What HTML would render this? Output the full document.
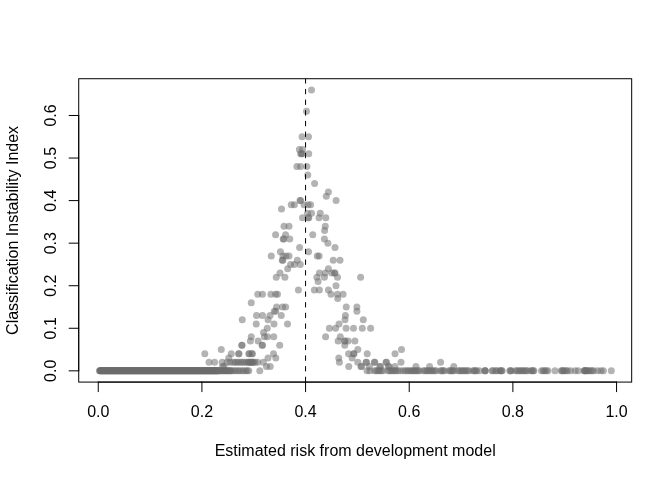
<!DOCTYPE html><html><head><meta charset="utf-8"><title>plot</title><style>html,body{margin:0;padding:0;background:#fff}svg{display:block}text{font-family:"Liberation Sans",sans-serif;font-size:16px;fill:#000}</style></head><body>
<svg width="672" height="480" viewBox="0 0 672 480">
<rect width="672" height="480" fill="#fff"/>
<g fill="#6d6d6d" fill-opacity="0.52">
<circle cx="311.50" cy="89.95" r="3.5"/>
<circle cx="306.50" cy="111.23" r="3.5"/>
<circle cx="302.10" cy="136.77" r="3.5"/>
<circle cx="308.50" cy="136.77" r="3.5"/>
<circle cx="299.40" cy="149.53" r="3.5"/>
<circle cx="302.50" cy="149.53" r="3.5"/>
<circle cx="300.60" cy="153.79" r="3.5"/>
<circle cx="302.50" cy="153.79" r="3.5"/>
<circle cx="301.50" cy="153.79" r="3.5"/>
<circle cx="308.75" cy="153.79" r="3.5"/>
<circle cx="296.90" cy="166.56" r="3.5"/>
<circle cx="300.60" cy="166.56" r="3.5"/>
<circle cx="306.90" cy="166.56" r="3.5"/>
<circle cx="307.75" cy="175.07" r="3.5"/>
<circle cx="314.60" cy="183.58" r="3.5"/>
<circle cx="328.40" cy="192.09" r="3.5"/>
<circle cx="326.25" cy="196.35" r="3.5"/>
<circle cx="300.00" cy="200.60" r="3.5"/>
<circle cx="300.60" cy="200.60" r="3.5"/>
<circle cx="336.10" cy="200.60" r="3.5"/>
<circle cx="291.25" cy="204.86" r="3.5"/>
<circle cx="294.40" cy="204.86" r="3.5"/>
<circle cx="304.00" cy="204.86" r="3.5"/>
<circle cx="308.10" cy="204.86" r="3.5"/>
<circle cx="310.60" cy="204.86" r="3.5"/>
<circle cx="281.50" cy="209.12" r="3.5"/>
<circle cx="307.50" cy="213.37" r="3.5"/>
<circle cx="311.50" cy="213.37" r="3.5"/>
<circle cx="320.25" cy="213.37" r="3.5"/>
<circle cx="302.50" cy="217.63" r="3.5"/>
<circle cx="308.20" cy="217.63" r="3.5"/>
<circle cx="308.80" cy="217.63" r="3.5"/>
<circle cx="319.00" cy="217.63" r="3.5"/>
<circle cx="325.80" cy="217.63" r="3.5"/>
<circle cx="284.00" cy="226.14" r="3.5"/>
<circle cx="289.00" cy="226.14" r="3.5"/>
<circle cx="325.25" cy="226.14" r="3.5"/>
<circle cx="324.60" cy="230.40" r="3.5"/>
<circle cx="275.60" cy="234.65" r="3.5"/>
<circle cx="285.60" cy="234.65" r="3.5"/>
<circle cx="312.75" cy="234.65" r="3.5"/>
<circle cx="283.20" cy="238.91" r="3.5"/>
<circle cx="283.80" cy="238.91" r="3.5"/>
<circle cx="289.75" cy="238.91" r="3.5"/>
<circle cx="324.40" cy="238.91" r="3.5"/>
<circle cx="327.90" cy="243.16" r="3.5"/>
<circle cx="299.60" cy="247.42" r="3.5"/>
<circle cx="335.00" cy="247.42" r="3.5"/>
<circle cx="280.40" cy="251.67" r="3.5"/>
<circle cx="308.50" cy="251.67" r="3.5"/>
<circle cx="271.25" cy="255.93" r="3.5"/>
<circle cx="283.00" cy="255.93" r="3.5"/>
<circle cx="286.00" cy="255.93" r="3.5"/>
<circle cx="289.00" cy="255.93" r="3.5"/>
<circle cx="317.30" cy="255.93" r="3.5"/>
<circle cx="319.10" cy="255.93" r="3.5"/>
<circle cx="282.30" cy="260.19" r="3.5"/>
<circle cx="282.80" cy="260.19" r="3.5"/>
<circle cx="297.30" cy="260.19" r="3.5"/>
<circle cx="333.20" cy="260.19" r="3.5"/>
<circle cx="340.00" cy="260.19" r="3.5"/>
<circle cx="290.60" cy="264.44" r="3.5"/>
<circle cx="294.40" cy="264.44" r="3.5"/>
<circle cx="300.25" cy="264.44" r="3.5"/>
<circle cx="287.70" cy="268.70" r="3.5"/>
<circle cx="328.40" cy="268.70" r="3.5"/>
<circle cx="280.00" cy="272.95" r="3.5"/>
<circle cx="319.40" cy="272.95" r="3.5"/>
<circle cx="325.25" cy="272.95" r="3.5"/>
<circle cx="331.90" cy="272.95" r="3.5"/>
<circle cx="334.50" cy="272.95" r="3.5"/>
<circle cx="335.00" cy="272.95" r="3.5"/>
<circle cx="276.25" cy="277.21" r="3.5"/>
<circle cx="284.90" cy="277.21" r="3.5"/>
<circle cx="316.90" cy="277.21" r="3.5"/>
<circle cx="324.40" cy="277.21" r="3.5"/>
<circle cx="337.50" cy="277.21" r="3.5"/>
<circle cx="360.60" cy="277.21" r="3.5"/>
<circle cx="318.10" cy="281.47" r="3.5"/>
<circle cx="336.00" cy="285.72" r="3.5"/>
<circle cx="298.40" cy="289.98" r="3.5"/>
<circle cx="314.40" cy="289.98" r="3.5"/>
<circle cx="319.40" cy="289.98" r="3.5"/>
<circle cx="328.40" cy="289.98" r="3.5"/>
<circle cx="257.75" cy="294.23" r="3.5"/>
<circle cx="262.50" cy="294.23" r="3.5"/>
<circle cx="270.90" cy="294.23" r="3.5"/>
<circle cx="275.60" cy="294.23" r="3.5"/>
<circle cx="277.50" cy="294.23" r="3.5"/>
<circle cx="331.00" cy="294.23" r="3.5"/>
<circle cx="337.50" cy="294.23" r="3.5"/>
<circle cx="343.10" cy="294.23" r="3.5"/>
<circle cx="337.75" cy="298.49" r="3.5"/>
<circle cx="251.25" cy="302.75" r="3.5"/>
<circle cx="276.60" cy="307.00" r="3.5"/>
<circle cx="282.50" cy="307.00" r="3.5"/>
<circle cx="285.60" cy="307.00" r="3.5"/>
<circle cx="346.25" cy="307.00" r="3.5"/>
<circle cx="356.90" cy="307.00" r="3.5"/>
<circle cx="274.25" cy="311.26" r="3.5"/>
<circle cx="275.75" cy="311.26" r="3.5"/>
<circle cx="356.90" cy="311.26" r="3.5"/>
<circle cx="256.60" cy="315.51" r="3.5"/>
<circle cx="262.50" cy="315.51" r="3.5"/>
<circle cx="270.00" cy="315.51" r="3.5"/>
<circle cx="281.25" cy="315.51" r="3.5"/>
<circle cx="345.40" cy="315.51" r="3.5"/>
<circle cx="242.25" cy="319.77" r="3.5"/>
<circle cx="268.10" cy="319.77" r="3.5"/>
<circle cx="345.00" cy="319.77" r="3.5"/>
<circle cx="363.30" cy="319.77" r="3.5"/>
<circle cx="256.25" cy="324.03" r="3.5"/>
<circle cx="274.00" cy="324.03" r="3.5"/>
<circle cx="287.50" cy="324.03" r="3.5"/>
<circle cx="339.00" cy="324.03" r="3.5"/>
<circle cx="267.25" cy="328.28" r="3.5"/>
<circle cx="329.40" cy="328.28" r="3.5"/>
<circle cx="335.60" cy="328.28" r="3.5"/>
<circle cx="346.10" cy="328.28" r="3.5"/>
<circle cx="353.50" cy="328.28" r="3.5"/>
<circle cx="362.25" cy="328.28" r="3.5"/>
<circle cx="370.60" cy="328.28" r="3.5"/>
<circle cx="263.50" cy="332.54" r="3.5"/>
<circle cx="251.25" cy="336.79" r="3.5"/>
<circle cx="264.40" cy="336.79" r="3.5"/>
<circle cx="267.50" cy="336.79" r="3.5"/>
<circle cx="273.75" cy="336.79" r="3.5"/>
<circle cx="325.60" cy="336.79" r="3.5"/>
<circle cx="340.25" cy="336.79" r="3.5"/>
<circle cx="250.40" cy="341.05" r="3.5"/>
<circle cx="258.10" cy="341.05" r="3.5"/>
<circle cx="338.10" cy="341.05" r="3.5"/>
<circle cx="344.50" cy="341.05" r="3.5"/>
<circle cx="345.00" cy="341.05" r="3.5"/>
<circle cx="348.10" cy="341.05" r="3.5"/>
<circle cx="354.90" cy="341.05" r="3.5"/>
<circle cx="241.70" cy="345.30" r="3.5"/>
<circle cx="242.10" cy="345.30" r="3.5"/>
<circle cx="262.10" cy="345.30" r="3.5"/>
<circle cx="262.50" cy="345.30" r="3.5"/>
<circle cx="279.70" cy="345.30" r="3.5"/>
<circle cx="344.75" cy="345.30" r="3.5"/>
<circle cx="221.25" cy="349.56" r="3.5"/>
<circle cx="357.80" cy="349.56" r="3.5"/>
<circle cx="401.50" cy="349.56" r="3.5"/>
<circle cx="204.80" cy="353.82" r="3.5"/>
<circle cx="231.25" cy="353.82" r="3.5"/>
<circle cx="238.60" cy="353.82" r="3.5"/>
<circle cx="239.00" cy="353.82" r="3.5"/>
<circle cx="248.75" cy="353.82" r="3.5"/>
<circle cx="249.50" cy="353.82" r="3.5"/>
<circle cx="251.90" cy="353.82" r="3.5"/>
<circle cx="252.50" cy="353.82" r="3.5"/>
<circle cx="273.50" cy="353.82" r="3.5"/>
<circle cx="348.60" cy="353.82" r="3.5"/>
<circle cx="353.60" cy="353.82" r="3.5"/>
<circle cx="354.00" cy="353.82" r="3.5"/>
<circle cx="367.20" cy="353.82" r="3.5"/>
<circle cx="395.00" cy="353.82" r="3.5"/>
<circle cx="228.75" cy="358.07" r="3.5"/>
<circle cx="268.00" cy="358.07" r="3.5"/>
<circle cx="275.80" cy="358.07" r="3.5"/>
<circle cx="338.75" cy="358.07" r="3.5"/>
<circle cx="352.10" cy="358.07" r="3.5"/>
<circle cx="209.00" cy="362.33" r="3.5"/>
<circle cx="214.60" cy="362.33" r="3.5"/>
<circle cx="222.20" cy="362.33" r="3.5"/>
<circle cx="227.00" cy="362.33" r="3.5"/>
<circle cx="230.00" cy="362.33" r="3.5"/>
<circle cx="233.00" cy="362.33" r="3.5"/>
<circle cx="235.00" cy="362.33" r="3.5"/>
<circle cx="236.90" cy="362.33" r="3.5"/>
<circle cx="238.60" cy="362.33" r="3.5"/>
<circle cx="240.60" cy="362.33" r="3.5"/>
<circle cx="242.50" cy="362.33" r="3.5"/>
<circle cx="244.40" cy="362.33" r="3.5"/>
<circle cx="246.50" cy="362.33" r="3.5"/>
<circle cx="248.30" cy="362.33" r="3.5"/>
<circle cx="249.00" cy="362.33" r="3.5"/>
<circle cx="250.00" cy="362.33" r="3.5"/>
<circle cx="251.00" cy="362.33" r="3.5"/>
<circle cx="251.90" cy="362.33" r="3.5"/>
<circle cx="252.50" cy="362.33" r="3.5"/>
<circle cx="253.50" cy="362.33" r="3.5"/>
<circle cx="255.00" cy="362.33" r="3.5"/>
<circle cx="257.60" cy="362.33" r="3.5"/>
<circle cx="263.30" cy="362.33" r="3.5"/>
<circle cx="339.40" cy="362.33" r="3.5"/>
<circle cx="357.80" cy="362.33" r="3.5"/>
<circle cx="366.00" cy="362.33" r="3.5"/>
<circle cx="366.50" cy="362.33" r="3.5"/>
<circle cx="374.40" cy="362.33" r="3.5"/>
<circle cx="374.80" cy="362.33" r="3.5"/>
<circle cx="386.00" cy="362.33" r="3.5"/>
<circle cx="386.50" cy="362.33" r="3.5"/>
<circle cx="401.00" cy="362.33" r="3.5"/>
<circle cx="440.60" cy="362.33" r="3.5"/>
<circle cx="222.60" cy="366.58" r="3.5"/>
<circle cx="224.00" cy="366.58" r="3.5"/>
<circle cx="266.50" cy="366.58" r="3.5"/>
<circle cx="270.20" cy="366.58" r="3.5"/>
<circle cx="348.75" cy="366.58" r="3.5"/>
<circle cx="361.00" cy="366.58" r="3.5"/>
<circle cx="361.50" cy="366.58" r="3.5"/>
<circle cx="369.40" cy="366.58" r="3.5"/>
<circle cx="379.80" cy="366.58" r="3.5"/>
<circle cx="380.40" cy="366.58" r="3.5"/>
<circle cx="388.40" cy="366.58" r="3.5"/>
<circle cx="389.20" cy="366.58" r="3.5"/>
<circle cx="395.00" cy="366.58" r="3.5"/>
<circle cx="415.90" cy="366.58" r="3.5"/>
<circle cx="429.60" cy="366.58" r="3.5"/>
<circle cx="453.75" cy="366.58" r="3.5"/>
<circle cx="99.50" cy="370.84" r="3.5"/>
<circle cx="99.90" cy="370.84" r="3.5"/>
<circle cx="100.30" cy="370.84" r="3.5"/>
<circle cx="100.70" cy="370.84" r="3.5"/>
<circle cx="101.10" cy="370.84" r="3.5"/>
<circle cx="101.50" cy="370.84" r="3.5"/>
<circle cx="101.90" cy="370.84" r="3.5"/>
<circle cx="102.30" cy="370.84" r="3.5"/>
<circle cx="102.70" cy="370.84" r="3.5"/>
<circle cx="103.10" cy="370.84" r="3.5"/>
<circle cx="103.50" cy="370.84" r="3.5"/>
<circle cx="103.90" cy="370.84" r="3.5"/>
<circle cx="104.30" cy="370.84" r="3.5"/>
<circle cx="104.70" cy="370.84" r="3.5"/>
<circle cx="105.10" cy="370.84" r="3.5"/>
<circle cx="105.50" cy="370.84" r="3.5"/>
<circle cx="105.90" cy="370.84" r="3.5"/>
<circle cx="106.30" cy="370.84" r="3.5"/>
<circle cx="106.70" cy="370.84" r="3.5"/>
<circle cx="107.10" cy="370.84" r="3.5"/>
<circle cx="107.50" cy="370.84" r="3.5"/>
<circle cx="107.90" cy="370.84" r="3.5"/>
<circle cx="108.30" cy="370.84" r="3.5"/>
<circle cx="108.70" cy="370.84" r="3.5"/>
<circle cx="109.10" cy="370.84" r="3.5"/>
<circle cx="109.50" cy="370.84" r="3.5"/>
<circle cx="109.90" cy="370.84" r="3.5"/>
<circle cx="110.30" cy="370.84" r="3.5"/>
<circle cx="110.70" cy="370.84" r="3.5"/>
<circle cx="111.10" cy="370.84" r="3.5"/>
<circle cx="111.50" cy="370.84" r="3.5"/>
<circle cx="111.90" cy="370.84" r="3.5"/>
<circle cx="112.30" cy="370.84" r="3.5"/>
<circle cx="112.70" cy="370.84" r="3.5"/>
<circle cx="113.10" cy="370.84" r="3.5"/>
<circle cx="113.50" cy="370.84" r="3.5"/>
<circle cx="113.90" cy="370.84" r="3.5"/>
<circle cx="114.30" cy="370.84" r="3.5"/>
<circle cx="114.70" cy="370.84" r="3.5"/>
<circle cx="115.10" cy="370.84" r="3.5"/>
<circle cx="115.50" cy="370.84" r="3.5"/>
<circle cx="115.90" cy="370.84" r="3.5"/>
<circle cx="116.30" cy="370.84" r="3.5"/>
<circle cx="116.70" cy="370.84" r="3.5"/>
<circle cx="117.10" cy="370.84" r="3.5"/>
<circle cx="117.50" cy="370.84" r="3.5"/>
<circle cx="117.90" cy="370.84" r="3.5"/>
<circle cx="118.30" cy="370.84" r="3.5"/>
<circle cx="118.70" cy="370.84" r="3.5"/>
<circle cx="119.10" cy="370.84" r="3.5"/>
<circle cx="119.50" cy="370.84" r="3.5"/>
<circle cx="119.90" cy="370.84" r="3.5"/>
<circle cx="120.30" cy="370.84" r="3.5"/>
<circle cx="120.70" cy="370.84" r="3.5"/>
<circle cx="121.10" cy="370.84" r="3.5"/>
<circle cx="121.50" cy="370.84" r="3.5"/>
<circle cx="121.90" cy="370.84" r="3.5"/>
<circle cx="122.30" cy="370.84" r="3.5"/>
<circle cx="122.70" cy="370.84" r="3.5"/>
<circle cx="123.10" cy="370.84" r="3.5"/>
<circle cx="123.50" cy="370.84" r="3.5"/>
<circle cx="123.90" cy="370.84" r="3.5"/>
<circle cx="124.30" cy="370.84" r="3.5"/>
<circle cx="124.70" cy="370.84" r="3.5"/>
<circle cx="125.10" cy="370.84" r="3.5"/>
<circle cx="125.50" cy="370.84" r="3.5"/>
<circle cx="125.90" cy="370.84" r="3.5"/>
<circle cx="126.30" cy="370.84" r="3.5"/>
<circle cx="126.70" cy="370.84" r="3.5"/>
<circle cx="127.10" cy="370.84" r="3.5"/>
<circle cx="127.50" cy="370.84" r="3.5"/>
<circle cx="127.90" cy="370.84" r="3.5"/>
<circle cx="128.30" cy="370.84" r="3.5"/>
<circle cx="128.70" cy="370.84" r="3.5"/>
<circle cx="129.10" cy="370.84" r="3.5"/>
<circle cx="129.50" cy="370.84" r="3.5"/>
<circle cx="129.90" cy="370.84" r="3.5"/>
<circle cx="130.30" cy="370.84" r="3.5"/>
<circle cx="130.70" cy="370.84" r="3.5"/>
<circle cx="131.10" cy="370.84" r="3.5"/>
<circle cx="131.50" cy="370.84" r="3.5"/>
<circle cx="131.90" cy="370.84" r="3.5"/>
<circle cx="132.30" cy="370.84" r="3.5"/>
<circle cx="132.70" cy="370.84" r="3.5"/>
<circle cx="133.10" cy="370.84" r="3.5"/>
<circle cx="133.50" cy="370.84" r="3.5"/>
<circle cx="133.90" cy="370.84" r="3.5"/>
<circle cx="134.30" cy="370.84" r="3.5"/>
<circle cx="134.70" cy="370.84" r="3.5"/>
<circle cx="135.10" cy="370.84" r="3.5"/>
<circle cx="135.50" cy="370.84" r="3.5"/>
<circle cx="135.90" cy="370.84" r="3.5"/>
<circle cx="136.30" cy="370.84" r="3.5"/>
<circle cx="136.70" cy="370.84" r="3.5"/>
<circle cx="137.10" cy="370.84" r="3.5"/>
<circle cx="137.50" cy="370.84" r="3.5"/>
<circle cx="137.90" cy="370.84" r="3.5"/>
<circle cx="138.30" cy="370.84" r="3.5"/>
<circle cx="138.70" cy="370.84" r="3.5"/>
<circle cx="139.10" cy="370.84" r="3.5"/>
<circle cx="139.50" cy="370.84" r="3.5"/>
<circle cx="139.90" cy="370.84" r="3.5"/>
<circle cx="140.30" cy="370.84" r="3.5"/>
<circle cx="140.70" cy="370.84" r="3.5"/>
<circle cx="141.10" cy="370.84" r="3.5"/>
<circle cx="141.50" cy="370.84" r="3.5"/>
<circle cx="141.90" cy="370.84" r="3.5"/>
<circle cx="142.30" cy="370.84" r="3.5"/>
<circle cx="142.70" cy="370.84" r="3.5"/>
<circle cx="143.10" cy="370.84" r="3.5"/>
<circle cx="143.50" cy="370.84" r="3.5"/>
<circle cx="143.90" cy="370.84" r="3.5"/>
<circle cx="144.30" cy="370.84" r="3.5"/>
<circle cx="144.70" cy="370.84" r="3.5"/>
<circle cx="145.10" cy="370.84" r="3.5"/>
<circle cx="145.50" cy="370.84" r="3.5"/>
<circle cx="145.90" cy="370.84" r="3.5"/>
<circle cx="146.30" cy="370.84" r="3.5"/>
<circle cx="146.70" cy="370.84" r="3.5"/>
<circle cx="147.10" cy="370.84" r="3.5"/>
<circle cx="147.50" cy="370.84" r="3.5"/>
<circle cx="147.90" cy="370.84" r="3.5"/>
<circle cx="148.30" cy="370.84" r="3.5"/>
<circle cx="148.70" cy="370.84" r="3.5"/>
<circle cx="149.10" cy="370.84" r="3.5"/>
<circle cx="149.50" cy="370.84" r="3.5"/>
<circle cx="149.90" cy="370.84" r="3.5"/>
<circle cx="150.30" cy="370.84" r="3.5"/>
<circle cx="150.70" cy="370.84" r="3.5"/>
<circle cx="151.10" cy="370.84" r="3.5"/>
<circle cx="151.50" cy="370.84" r="3.5"/>
<circle cx="151.90" cy="370.84" r="3.5"/>
<circle cx="152.30" cy="370.84" r="3.5"/>
<circle cx="152.70" cy="370.84" r="3.5"/>
<circle cx="153.10" cy="370.84" r="3.5"/>
<circle cx="153.50" cy="370.84" r="3.5"/>
<circle cx="153.90" cy="370.84" r="3.5"/>
<circle cx="154.30" cy="370.84" r="3.5"/>
<circle cx="154.70" cy="370.84" r="3.5"/>
<circle cx="155.10" cy="370.84" r="3.5"/>
<circle cx="155.50" cy="370.84" r="3.5"/>
<circle cx="155.90" cy="370.84" r="3.5"/>
<circle cx="156.30" cy="370.84" r="3.5"/>
<circle cx="156.70" cy="370.84" r="3.5"/>
<circle cx="157.10" cy="370.84" r="3.5"/>
<circle cx="157.50" cy="370.84" r="3.5"/>
<circle cx="157.90" cy="370.84" r="3.5"/>
<circle cx="158.30" cy="370.84" r="3.5"/>
<circle cx="158.70" cy="370.84" r="3.5"/>
<circle cx="159.10" cy="370.84" r="3.5"/>
<circle cx="159.50" cy="370.84" r="3.5"/>
<circle cx="159.90" cy="370.84" r="3.5"/>
<circle cx="160.30" cy="370.84" r="3.5"/>
<circle cx="160.70" cy="370.84" r="3.5"/>
<circle cx="161.10" cy="370.84" r="3.5"/>
<circle cx="161.50" cy="370.84" r="3.5"/>
<circle cx="161.90" cy="370.84" r="3.5"/>
<circle cx="162.30" cy="370.84" r="3.5"/>
<circle cx="162.70" cy="370.84" r="3.5"/>
<circle cx="163.10" cy="370.84" r="3.5"/>
<circle cx="163.50" cy="370.84" r="3.5"/>
<circle cx="163.90" cy="370.84" r="3.5"/>
<circle cx="164.30" cy="370.84" r="3.5"/>
<circle cx="164.70" cy="370.84" r="3.5"/>
<circle cx="165.10" cy="370.84" r="3.5"/>
<circle cx="165.50" cy="370.84" r="3.5"/>
<circle cx="165.90" cy="370.84" r="3.5"/>
<circle cx="166.30" cy="370.84" r="3.5"/>
<circle cx="166.70" cy="370.84" r="3.5"/>
<circle cx="167.10" cy="370.84" r="3.5"/>
<circle cx="167.50" cy="370.84" r="3.5"/>
<circle cx="167.90" cy="370.84" r="3.5"/>
<circle cx="168.30" cy="370.84" r="3.5"/>
<circle cx="168.70" cy="370.84" r="3.5"/>
<circle cx="169.10" cy="370.84" r="3.5"/>
<circle cx="169.50" cy="370.84" r="3.5"/>
<circle cx="169.90" cy="370.84" r="3.5"/>
<circle cx="170.30" cy="370.84" r="3.5"/>
<circle cx="170.70" cy="370.84" r="3.5"/>
<circle cx="171.10" cy="370.84" r="3.5"/>
<circle cx="171.50" cy="370.84" r="3.5"/>
<circle cx="171.90" cy="370.84" r="3.5"/>
<circle cx="172.30" cy="370.84" r="3.5"/>
<circle cx="172.70" cy="370.84" r="3.5"/>
<circle cx="173.10" cy="370.84" r="3.5"/>
<circle cx="173.50" cy="370.84" r="3.5"/>
<circle cx="173.90" cy="370.84" r="3.5"/>
<circle cx="174.30" cy="370.84" r="3.5"/>
<circle cx="174.70" cy="370.84" r="3.5"/>
<circle cx="175.10" cy="370.84" r="3.5"/>
<circle cx="175.50" cy="370.84" r="3.5"/>
<circle cx="175.90" cy="370.84" r="3.5"/>
<circle cx="176.30" cy="370.84" r="3.5"/>
<circle cx="176.70" cy="370.84" r="3.5"/>
<circle cx="177.10" cy="370.84" r="3.5"/>
<circle cx="177.50" cy="370.84" r="3.5"/>
<circle cx="177.90" cy="370.84" r="3.5"/>
<circle cx="178.30" cy="370.84" r="3.5"/>
<circle cx="178.70" cy="370.84" r="3.5"/>
<circle cx="179.10" cy="370.84" r="3.5"/>
<circle cx="179.50" cy="370.84" r="3.5"/>
<circle cx="179.90" cy="370.84" r="3.5"/>
<circle cx="180.30" cy="370.84" r="3.5"/>
<circle cx="180.70" cy="370.84" r="3.5"/>
<circle cx="181.10" cy="370.84" r="3.5"/>
<circle cx="181.50" cy="370.84" r="3.5"/>
<circle cx="181.90" cy="370.84" r="3.5"/>
<circle cx="182.30" cy="370.84" r="3.5"/>
<circle cx="182.70" cy="370.84" r="3.5"/>
<circle cx="183.10" cy="370.84" r="3.5"/>
<circle cx="183.50" cy="370.84" r="3.5"/>
<circle cx="183.90" cy="370.84" r="3.5"/>
<circle cx="184.30" cy="370.84" r="3.5"/>
<circle cx="184.70" cy="370.84" r="3.5"/>
<circle cx="185.10" cy="370.84" r="3.5"/>
<circle cx="185.50" cy="370.84" r="3.5"/>
<circle cx="185.90" cy="370.84" r="3.5"/>
<circle cx="186.30" cy="370.84" r="3.5"/>
<circle cx="186.70" cy="370.84" r="3.5"/>
<circle cx="187.10" cy="370.84" r="3.5"/>
<circle cx="187.50" cy="370.84" r="3.5"/>
<circle cx="187.90" cy="370.84" r="3.5"/>
<circle cx="188.30" cy="370.84" r="3.5"/>
<circle cx="188.70" cy="370.84" r="3.5"/>
<circle cx="189.10" cy="370.84" r="3.5"/>
<circle cx="189.50" cy="370.84" r="3.5"/>
<circle cx="189.90" cy="370.84" r="3.5"/>
<circle cx="190.30" cy="370.84" r="3.5"/>
<circle cx="190.70" cy="370.84" r="3.5"/>
<circle cx="191.10" cy="370.84" r="3.5"/>
<circle cx="191.50" cy="370.84" r="3.5"/>
<circle cx="191.90" cy="370.84" r="3.5"/>
<circle cx="192.30" cy="370.84" r="3.5"/>
<circle cx="192.70" cy="370.84" r="3.5"/>
<circle cx="193.10" cy="370.84" r="3.5"/>
<circle cx="193.50" cy="370.84" r="3.5"/>
<circle cx="193.90" cy="370.84" r="3.5"/>
<circle cx="194.30" cy="370.84" r="3.5"/>
<circle cx="194.70" cy="370.84" r="3.5"/>
<circle cx="195.10" cy="370.84" r="3.5"/>
<circle cx="195.50" cy="370.84" r="3.5"/>
<circle cx="195.90" cy="370.84" r="3.5"/>
<circle cx="196.30" cy="370.84" r="3.5"/>
<circle cx="196.70" cy="370.84" r="3.5"/>
<circle cx="197.10" cy="370.84" r="3.5"/>
<circle cx="197.50" cy="370.84" r="3.5"/>
<circle cx="197.90" cy="370.84" r="3.5"/>
<circle cx="198.30" cy="370.84" r="3.5"/>
<circle cx="198.70" cy="370.84" r="3.5"/>
<circle cx="199.10" cy="370.84" r="3.5"/>
<circle cx="199.50" cy="370.84" r="3.5"/>
<circle cx="199.90" cy="370.84" r="3.5"/>
<circle cx="200.30" cy="370.84" r="3.5"/>
<circle cx="200.70" cy="370.84" r="3.5"/>
<circle cx="201.10" cy="370.84" r="3.5"/>
<circle cx="201.50" cy="370.84" r="3.5"/>
<circle cx="201.90" cy="370.84" r="3.5"/>
<circle cx="202.30" cy="370.84" r="3.5"/>
<circle cx="202.70" cy="370.84" r="3.5"/>
<circle cx="203.10" cy="370.84" r="3.5"/>
<circle cx="203.50" cy="370.84" r="3.5"/>
<circle cx="203.90" cy="370.84" r="3.5"/>
<circle cx="204.30" cy="370.84" r="3.5"/>
<circle cx="204.70" cy="370.84" r="3.5"/>
<circle cx="205.10" cy="370.84" r="3.5"/>
<circle cx="205.50" cy="370.84" r="3.5"/>
<circle cx="205.90" cy="370.84" r="3.5"/>
<circle cx="206.30" cy="370.84" r="3.5"/>
<circle cx="206.70" cy="370.84" r="3.5"/>
<circle cx="207.10" cy="370.84" r="3.5"/>
<circle cx="207.50" cy="370.84" r="3.5"/>
<circle cx="207.90" cy="370.84" r="3.5"/>
<circle cx="208.30" cy="370.84" r="3.5"/>
<circle cx="208.70" cy="370.84" r="3.5"/>
<circle cx="209.10" cy="370.84" r="3.5"/>
<circle cx="209.50" cy="370.84" r="3.5"/>
<circle cx="209.90" cy="370.84" r="3.5"/>
<circle cx="210.30" cy="370.84" r="3.5"/>
<circle cx="210.70" cy="370.84" r="3.5"/>
<circle cx="211.10" cy="370.84" r="3.5"/>
<circle cx="211.50" cy="370.84" r="3.5"/>
<circle cx="211.90" cy="370.84" r="3.5"/>
<circle cx="212.30" cy="370.84" r="3.5"/>
<circle cx="212.70" cy="370.84" r="3.5"/>
<circle cx="213.10" cy="370.84" r="3.5"/>
<circle cx="213.50" cy="370.84" r="3.5"/>
<circle cx="213.90" cy="370.84" r="3.5"/>
<circle cx="214.30" cy="370.84" r="3.5"/>
<circle cx="214.70" cy="370.84" r="3.5"/>
<circle cx="215.10" cy="370.84" r="3.5"/>
<circle cx="215.50" cy="370.84" r="3.5"/>
<circle cx="215.90" cy="370.84" r="3.5"/>
<circle cx="216.30" cy="370.84" r="3.5"/>
<circle cx="216.70" cy="370.84" r="3.5"/>
<circle cx="217.10" cy="370.84" r="3.5"/>
<circle cx="217.50" cy="370.84" r="3.5"/>
<circle cx="217.90" cy="370.84" r="3.5"/>
<circle cx="218.30" cy="370.84" r="3.5"/>
<circle cx="218.70" cy="370.84" r="3.5"/>
<circle cx="220.00" cy="370.84" r="3.5"/>
<circle cx="220.90" cy="370.84" r="3.5"/>
<circle cx="221.80" cy="370.84" r="3.5"/>
<circle cx="222.70" cy="370.84" r="3.5"/>
<circle cx="223.60" cy="370.84" r="3.5"/>
<circle cx="224.50" cy="370.84" r="3.5"/>
<circle cx="225.40" cy="370.84" r="3.5"/>
<circle cx="226.30" cy="370.84" r="3.5"/>
<circle cx="227.20" cy="370.84" r="3.5"/>
<circle cx="228.10" cy="370.84" r="3.5"/>
<circle cx="229.00" cy="370.84" r="3.5"/>
<circle cx="229.90" cy="370.84" r="3.5"/>
<circle cx="230.80" cy="370.84" r="3.5"/>
<circle cx="231.70" cy="370.84" r="3.5"/>
<circle cx="233.80" cy="370.84" r="3.5"/>
<circle cx="235.50" cy="370.84" r="3.5"/>
<circle cx="237.60" cy="370.84" r="3.5"/>
<circle cx="239.20" cy="370.84" r="3.5"/>
<circle cx="241.50" cy="370.84" r="3.5"/>
<circle cx="243.40" cy="370.84" r="3.5"/>
<circle cx="245.60" cy="370.84" r="3.5"/>
<circle cx="247.20" cy="370.84" r="3.5"/>
<circle cx="248.80" cy="370.84" r="3.5"/>
<circle cx="259.80" cy="370.84" r="3.5"/>
<circle cx="367.00" cy="370.84" r="3.5"/>
<circle cx="369.80" cy="370.84" r="3.5"/>
<circle cx="374.50" cy="370.84" r="3.5"/>
<circle cx="376.20" cy="370.84" r="3.5"/>
<circle cx="377.90" cy="370.84" r="3.5"/>
<circle cx="379.60" cy="370.84" r="3.5"/>
<circle cx="381.30" cy="370.84" r="3.5"/>
<circle cx="383.00" cy="370.84" r="3.5"/>
<circle cx="388.00" cy="370.84" r="3.5"/>
<circle cx="389.60" cy="370.84" r="3.5"/>
<circle cx="391.20" cy="370.84" r="3.5"/>
<circle cx="392.80" cy="370.84" r="3.5"/>
<circle cx="394.40" cy="370.84" r="3.5"/>
<circle cx="396.00" cy="370.84" r="3.5"/>
<circle cx="397.60" cy="370.84" r="3.5"/>
<circle cx="400.30" cy="370.84" r="3.5"/>
<circle cx="403.20" cy="370.84" r="3.5"/>
<circle cx="405.50" cy="370.84" r="3.5"/>
<circle cx="407.30" cy="370.84" r="3.5"/>
<circle cx="409.00" cy="370.84" r="3.5"/>
<circle cx="410.80" cy="370.84" r="3.5"/>
<circle cx="412.25" cy="370.84" r="3.5"/>
<circle cx="413.70" cy="370.84" r="3.5"/>
<circle cx="415.15" cy="370.84" r="3.5"/>
<circle cx="416.60" cy="370.84" r="3.5"/>
<circle cx="418.05" cy="370.84" r="3.5"/>
<circle cx="419.50" cy="370.84" r="3.5"/>
<circle cx="423.40" cy="370.84" r="3.5"/>
<circle cx="425.00" cy="370.84" r="3.5"/>
<circle cx="426.60" cy="370.84" r="3.5"/>
<circle cx="428.20" cy="370.84" r="3.5"/>
<circle cx="429.80" cy="370.84" r="3.5"/>
<circle cx="431.40" cy="370.84" r="3.5"/>
<circle cx="433.00" cy="370.84" r="3.5"/>
<circle cx="434.60" cy="370.84" r="3.5"/>
<circle cx="436.20" cy="370.84" r="3.5"/>
<circle cx="440.50" cy="370.84" r="3.5"/>
<circle cx="441.80" cy="370.84" r="3.5"/>
<circle cx="443.10" cy="370.84" r="3.5"/>
<circle cx="444.40" cy="370.84" r="3.5"/>
<circle cx="449.00" cy="370.84" r="3.5"/>
<circle cx="450.25" cy="370.84" r="3.5"/>
<circle cx="451.50" cy="370.84" r="3.5"/>
<circle cx="452.75" cy="370.84" r="3.5"/>
<circle cx="454.00" cy="370.84" r="3.5"/>
<circle cx="458.00" cy="370.84" r="3.5"/>
<circle cx="459.55" cy="370.84" r="3.5"/>
<circle cx="461.10" cy="370.84" r="3.5"/>
<circle cx="462.65" cy="370.84" r="3.5"/>
<circle cx="464.20" cy="370.84" r="3.5"/>
<circle cx="465.75" cy="370.84" r="3.5"/>
<circle cx="467.30" cy="370.84" r="3.5"/>
<circle cx="468.85" cy="370.84" r="3.5"/>
<circle cx="473.00" cy="370.84" r="3.5"/>
<circle cx="474.20" cy="370.84" r="3.5"/>
<circle cx="475.40" cy="370.84" r="3.5"/>
<circle cx="476.60" cy="370.84" r="3.5"/>
<circle cx="479.30" cy="370.84" r="3.5"/>
<circle cx="484.80" cy="370.84" r="3.5"/>
<circle cx="485.10" cy="370.84" r="3.5"/>
<circle cx="485.40" cy="370.84" r="3.5"/>
<circle cx="492.20" cy="370.84" r="3.5"/>
<circle cx="492.80" cy="370.84" r="3.5"/>
<circle cx="495.60" cy="370.84" r="3.5"/>
<circle cx="496.60" cy="370.84" r="3.5"/>
<circle cx="499.50" cy="370.84" r="3.5"/>
<circle cx="500.50" cy="370.84" r="3.5"/>
<circle cx="501.50" cy="370.84" r="3.5"/>
<circle cx="502.20" cy="370.84" r="3.5"/>
<circle cx="509.80" cy="370.84" r="3.5"/>
<circle cx="510.60" cy="370.84" r="3.5"/>
<circle cx="511.40" cy="370.84" r="3.5"/>
<circle cx="515.60" cy="370.84" r="3.5"/>
<circle cx="517.10" cy="370.84" r="3.5"/>
<circle cx="518.60" cy="370.84" r="3.5"/>
<circle cx="520.10" cy="370.84" r="3.5"/>
<circle cx="521.60" cy="370.84" r="3.5"/>
<circle cx="523.10" cy="370.84" r="3.5"/>
<circle cx="524.60" cy="370.84" r="3.5"/>
<circle cx="526.10" cy="370.84" r="3.5"/>
<circle cx="527.60" cy="370.84" r="3.5"/>
<circle cx="531.00" cy="370.84" r="3.5"/>
<circle cx="532.00" cy="370.84" r="3.5"/>
<circle cx="533.20" cy="370.84" r="3.5"/>
<circle cx="533.90" cy="370.84" r="3.5"/>
<circle cx="541.50" cy="370.84" r="3.5"/>
<circle cx="543.10" cy="370.84" r="3.5"/>
<circle cx="544.70" cy="370.84" r="3.5"/>
<circle cx="546.30" cy="370.84" r="3.5"/>
<circle cx="547.90" cy="370.84" r="3.5"/>
<circle cx="555.00" cy="370.84" r="3.5"/>
<circle cx="561.30" cy="370.84" r="3.5"/>
<circle cx="562.20" cy="370.84" r="3.5"/>
<circle cx="563.00" cy="370.84" r="3.5"/>
<circle cx="564.50" cy="370.84" r="3.5"/>
<circle cx="566.00" cy="370.84" r="3.5"/>
<circle cx="567.50" cy="370.84" r="3.5"/>
<circle cx="570.50" cy="370.84" r="3.5"/>
<circle cx="575.20" cy="370.84" r="3.5"/>
<circle cx="578.20" cy="370.84" r="3.5"/>
<circle cx="584.00" cy="370.84" r="3.5"/>
<circle cx="584.50" cy="370.84" r="3.5"/>
<circle cx="585.00" cy="370.84" r="3.5"/>
<circle cx="585.80" cy="370.84" r="3.5"/>
<circle cx="586.50" cy="370.84" r="3.5"/>
<circle cx="587.50" cy="370.84" r="3.5"/>
<circle cx="589.00" cy="370.84" r="3.5"/>
<circle cx="590.50" cy="370.84" r="3.5"/>
<circle cx="592.00" cy="370.84" r="3.5"/>
<circle cx="593.50" cy="370.84" r="3.5"/>
<circle cx="597.50" cy="370.84" r="3.5"/>
<circle cx="601.00" cy="370.84" r="3.5"/>
<circle cx="603.40" cy="370.84" r="3.5"/>
<circle cx="611.30" cy="370.84" r="3.5"/>
</g>
<line x1="305.57" y1="382.08" x2="305.57" y2="78.72" stroke="#000" stroke-width="1" stroke-dasharray="5.33 5.33"/>
<g stroke="#000" stroke-width="1" fill="none" stroke-linecap="round">
<rect x="78.72" y="78.72" width="552.96" height="303.36"/>
<path d="M98.25 382.08H616.55M98.25 382.08v9.6M201.91 382.08v9.6M305.57 382.08v9.6M409.23 382.08v9.6M512.89 382.08v9.6M616.55 382.08v9.6"/>
<path d="M78.72 370.84V115.49M78.72 370.84h-9.6M78.72 328.28h-9.6M78.72 285.72h-9.6M78.72 243.16h-9.6M78.72 200.60h-9.6M78.72 158.04h-9.6M78.72 115.49h-9.6"/>
</g>
<text x="98.25" y="417" text-anchor="middle">0.0</text>
<text x="201.91" y="417" text-anchor="middle">0.2</text>
<text x="305.57" y="417" text-anchor="middle">0.4</text>
<text x="409.23" y="417" text-anchor="middle">0.6</text>
<text x="512.89" y="417" text-anchor="middle">0.8</text>
<text x="616.55" y="417" text-anchor="middle">1.0</text>
<text transform="translate(56,370.84) rotate(-90)" text-anchor="middle">0.0</text>
<text transform="translate(56,328.28) rotate(-90)" text-anchor="middle">0.1</text>
<text transform="translate(56,285.72) rotate(-90)" text-anchor="middle">0.2</text>
<text transform="translate(56,243.16) rotate(-90)" text-anchor="middle">0.3</text>
<text transform="translate(56,200.60) rotate(-90)" text-anchor="middle">0.4</text>
<text transform="translate(56,158.04) rotate(-90)" text-anchor="middle">0.5</text>
<text transform="translate(56,115.49) rotate(-90)" text-anchor="middle">0.6</text>
<text x="355.20" y="456" text-anchor="middle">Estimated risk from development model</text>
<text transform="translate(18,230.40) rotate(-90)" text-anchor="middle">Classification Instability Index</text>
</svg></body></html>
